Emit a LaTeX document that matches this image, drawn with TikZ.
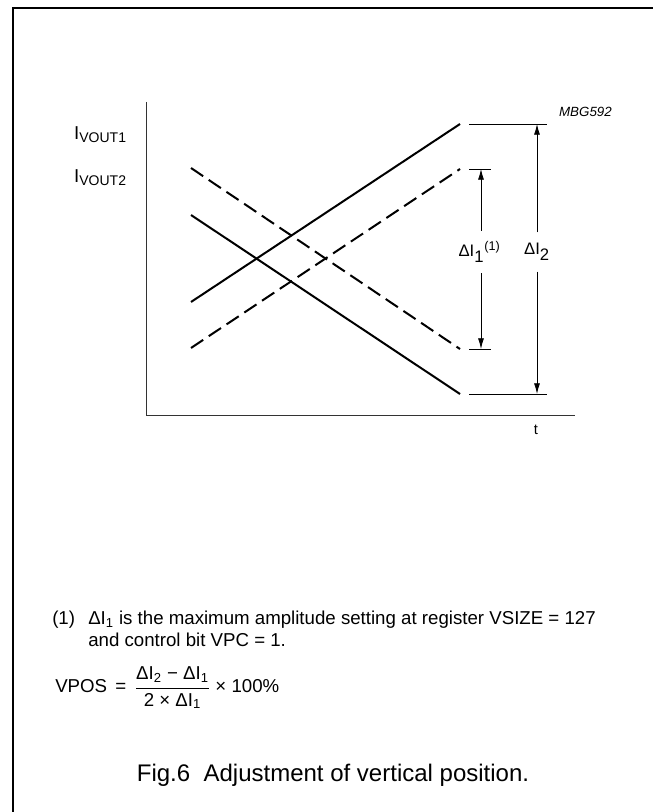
\documentclass[tikz,border=0pt]{standalone}
\usepackage{fontspec}
\usepackage{amsmath}
\setmainfont{Liberation Sans}
\usetikzlibrary{arrows.meta}

\tikzset{
  curve/.style={line width=1.5pt},
  dcurve/.style={curve, dash pattern=on 11pt off 5pt},
  tick/.style={line width=0.6pt},
  dim/.style={line width=0.6pt, -{Latex[length=8pt,width=4.5pt]}},
  lbl/.style={inner xsep=1pt, inner ysep=8pt, font=\fontsize{12.5}{14}\selectfont},
  axlbl/.style={anchor=east, inner sep=0pt, font=\fontsize{14}{16}\selectfont},
  note/.style={anchor=west, inner sep=0pt, font=\fontsize{14}{16.5}\selectfont},
}

\begin{document}
\begin{tikzpicture}[x=0.75pt,y=-0.75pt]
\useasboundingbox (0,0) rectangle (653,812);
% frame
\draw[line width=1.3pt] (13,812) -- (13,8) -- (653,8);

% axes
\coordinate (o) at (146,415);
\draw[line width=0.7pt, black!80] (146,102) -- (o) -- (575,415);
\node[inner sep=0pt, font=\fontsize{11}{13}\selectfont] (tlab) at (536,430) {t};
\node[axlbl] (iv1) at (127,135) {I\textsubscript{\fontsize{10.5}{12}\selectfont VOUT1}};
\node[axlbl] (iv2) at (127,178) {I\textsubscript{\fontsize{10.5}{12}\selectfont VOUT2}};
\node[anchor=east, inner sep=0pt, font=\fontsize{10}{12}\itshape] (code) at (612,112) {MBG592};

% currents
\coordinate (a1) at (191,302);
\coordinate (a2) at (460,124);
\coordinate (b1) at (191,348);
\coordinate (b2) at (460,169);
\coordinate (c1) at (191,215);
\coordinate (c2) at (460,394);
\coordinate (d1) at (191,168);
\coordinate (d2) at (460,349);
\draw[curve] (a1) -- (a2);
\draw[dcurve] (b1) -- (b2);
\draw[curve] (c1) -- (c2);
\draw[dcurve] (d1) -- (d2);

% extension lines
\coordinate (top) at (469,124);
\coordinate (bot) at (469,394);
\coordinate (mtop) at (469,169);
\coordinate (mbot) at (469,349);
\draw[tick] (top) -- (547,124);
\draw[tick] (bot) -- (547,394);
\draw[tick] (mtop) -- (491,169);
\draw[tick] (mbot) -- (491,349);

% dimensions
\node[lbl, anchor=west] (di1) at (457,252) {ΔI\textsubscript{\fontsize{12.5}{14}\selectfont 1}\textsuperscript{\fontsize{9.5}{11}\selectfont (1)}};
\node[lbl] (di2) at (537,252) {ΔI\textsubscript{\fontsize{12.5}{14}\selectfont 2}};
\coordinate (p1t) at (481,169);
\coordinate (p1b) at (481,349);
\coordinate (p2t) at (537,124);
\coordinate (p2b) at (537,394);
\draw[dim] (di1.north -| p1t) -- (p1t);
\draw[dim] (di1.south -| p1b) -- (p1b);
\draw[dim] (di2.north) -- (p2t);
\draw[dim] (di2.south) -- (p2b);

% note
\node[note] (n1) at (52,620) {(1)};
\node[note, anchor=north west, align=left] (n2) at (88,611) {ΔI\textsubscript{1} is the maximum amplitude setting at register VSIZE = 127\\and control bit VPC = 1.};
\node[note] (vpos) at (55,688) {VPOS \,=\, $\dfrac{\text{ΔI\textsubscript{2} − ΔI\textsubscript{1}}}{\text{2 × ΔI\textsubscript{1}}}$ × 100\%};

% caption
\node[inner sep=0pt, font=\fontsize{18}{20}\selectfont] (cap) at (333,775) {Fig.6\ \ Adjustment of vertical position.};
\end{tikzpicture}
\end{document}
